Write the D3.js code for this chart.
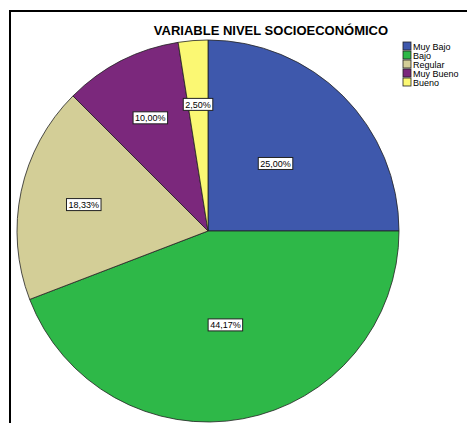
<!DOCTYPE html>
<html>
<head>
<meta charset="utf-8">
<script src="https://cdn.jsdelivr.net/npm/d3@7"></script>
<style>
  body { margin: 0; background: #fff; }
  text { font-family: Arial, "Liberation Sans", sans-serif; }
</style>
</head>
<body>
<svg id="chart" width="467" height="423"></svg>
<script>
// data
const categories = ["Muy Bajo", "Bajo", "Regular", "Muy Bueno", "Bueno"];
const percents = [25.00, 44.17, 18.33, 10.00, 2.50];
const colors = ["#3e58ac", "#2eb848", "#d3ce97", "#7b287c", "#fbf873"];

let svg = d3.select("#chart");
let cx = 208, cy = 231, r = 191;

// outer frame (continues past the window)
svg.append("rect")
    .attr("x", 10).attr("y", 11)
    .attr("width", 600).attr("height", 600)
    .style("fill", "none")
    .style("stroke", "#000")
    .style("stroke-width", 2);

svg.append("text")
    .text("VARIABLE NIVEL SOCIOECONÓMICO")
    .attr("x", 271).attr("y", 35)
    .attr("text-anchor", "middle")
    .style("font-size", "13px")
    .style("font-weight", "bold")
    .style("fill", "#000");

let pie = d3.pie().sort(null).value(d => d.value);
let arcs = pie(categories.map((c, i) => ({name: c, value: percents[i], color: colors[i]})));
let arc = d3.arc().innerRadius(0).outerRadius(r);

let g = svg.append("g").attr("transform", "translate(" + cx + "," + cy + ")");

g.selectAll(".slice")
    .data(arcs)
    .enter().append("path")
    .attr("class", "slice")
    .attr("d", arc)
    .style("fill", d => d.data.color)
    .style("stroke", "#222")
    .style("stroke-width", 0.8);

// labels: big slices near half radius, small ones further out
let fmt = v => d3.format(".2f")(v).replace(".", ",") + "%";
let labels = g.selectAll(".lbl")
    .data(arcs)
    .enter().append("g")
    .attr("class", "lbl")
    .attr("transform", function(d) {
        let a = (d.startAngle + d.endAngle) / 2;
        let rr = d.data.value >= 20 ? r * 0.5 : r * 0.665;
        return "translate(" + (Math.sin(a) * rr) + "," + (-Math.cos(a) * rr) + ")";
    });

labels.append("text")
    .text(d => fmt(d.data.value))
    .attr("text-anchor", "middle")
    .attr("y", 3.5)
    .style("font-size", "9px")
    .style("fill", "#000");

labels.each(function() {
    let t = d3.select(this).select("text");
    let b = t.node().getBBox();
    d3.select(this).insert("rect", "text")
        .attr("x", b.x - 2).attr("y", -6)
        .attr("width", b.width + 4).attr("height", 12)
        .style("fill", "#fff")
        .style("stroke", "#222")
        .style("stroke-width", 1);
});

// legend
let legend = svg.selectAll(".legend")
    .data(categories)
    .enter().append("g")
    .attr("class", "legend")
    .attr("transform", (d, i) => "translate(403," + (42 + 9 * i) + ")");

legend.append("rect")
    .attr("width", 8).attr("height", 8)
    .style("fill", (d, i) => colors[i])
    .style("stroke", "#222")
    .style("stroke-width", 0.8);

legend.append("text")
    .text(d => d)
    .attr("x", 10).attr("y", 7.5)
    .style("font-size", "9px")
    .style("fill", "#000");
</script>
</body>
</html>
